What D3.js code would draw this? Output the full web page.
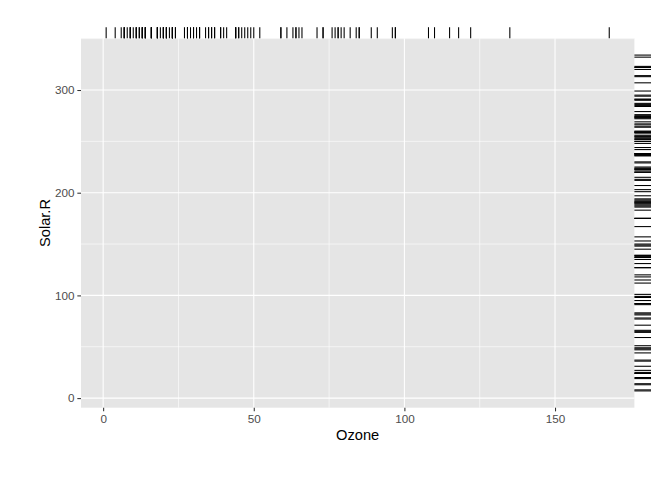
<!DOCTYPE html>
<html><head><meta charset="utf-8">
<script src="https://cdn.jsdelivr.net/npm/d3@7"></script>
<style>body{margin:0;background:#fff}</style>
</head><body><svg id="c" width="672" height="480"></svg>
<script>
const ozone = [41,36,12,18,null,28,23,19,8,null,7,16,11,14,18,14,34,6,30,11,1,11,4,32,null,null,null,23,45,115,37,null,null,null,null,null,null,29,null,71,39,null,null,23,null,null,21,37,20,12,13,null,null,null,null,null,null,null,null,null,null,135,49,32,null,64,40,77,97,97,85,null,10,27,null,7,48,35,61,79,63,16,null,null,80,108,20,52,82,50,64,59,39,9,16,78,35,66,122,89,110,null,null,44,28,65,null,22,59,23,31,44,21,9,null,45,168,73,null,76,118,84,85,96,78,73,91,47,32,20,23,21,24,44,21,28,9,13,46,18,13,24,16,13,23,36,7,14,30,null,14,18,20];
const solarR = [190,118,149,313,null,null,299,99,19,194,null,256,290,274,65,334,307,78,322,44,8,320,25,92,66,266,null,13,252,223,279,286,287,242,186,220,264,127,273,291,323,259,250,148,332,322,191,284,37,120,137,150,59,91,250,135,127,47,98,31,138,269,248,236,101,175,314,276,267,272,175,139,264,175,291,48,260,274,285,187,220,7,258,295,294,223,81,82,213,275,253,254,83,24,77,null,null,null,255,229,207,222,137,192,273,157,64,71,51,115,244,190,259,36,255,212,238,215,153,203,225,237,188,167,197,183,189,95,92,252,220,230,259,236,259,238,24,112,237,224,27,238,201,238,14,139,49,20,193,145,191,131,223];
const xTicks = [0,50,100,150];
const yTicks = [0,100,200,300];
const xMinor = [25,75,125];
const yMinor = [50,150,250,350];
const xLabel = "Ozone", yLabel = "Solar.R";

const svg = d3.select("#c");
const L = 81, R = 634.4, T = 38.3, B = 407.7;
const xv = ozone.filter(v => v != null), yv = solarR.filter(v => v != null);
const [x0, x1] = d3.extent(xv), [y0, y1] = d3.extent(yv);
const ex = (x1 - x0) * 0.05, ey = (y1 - y0) * 0.05;
const x = d3.scaleLinear().domain([x0 - ex, x1 + ex]).range([L, R]);
const y = d3.scaleLinear().domain([y0 - ey, y1 + ey]).range([B, T]);

svg.append("rect").attr("x", L).attr("y", T).attr("width", R - L).attr("height", B - T).attr("fill", "#E5E5E5");
const grid = svg.append("g");
grid.selectAll(".xm").data(xMinor).join("line").attr("x1", d => x(d)).attr("x2", d => x(d)).attr("y1", T).attr("y2", B).attr("stroke", "#fff").attr("stroke-width", 0.6);
grid.selectAll(".ym").data(yMinor.filter(d => y(d) >= T)).join("line").attr("y1", d => y(d)).attr("y2", d => y(d)).attr("x1", L).attr("x2", R).attr("stroke", "#fff").attr("stroke-width", 0.6);
grid.selectAll(".xM").data(xTicks).join("line").attr("x1", d => x(d)).attr("x2", d => x(d)).attr("y1", T).attr("y2", B).attr("stroke", "#fff").attr("stroke-width", 1.07);
grid.selectAll(".yM").data(yTicks).join("line").attr("y1", d => y(d)).attr("y2", d => y(d)).attr("x1", L).attr("x2", R).attr("stroke", "#fff").attr("stroke-width", 1.07);

// rugs (outside)
const lenTop = 0.03 * (B - T), lenRight = 0.03 * (R - L);
svg.append("g").selectAll("line").data(xv).join("line")
  .attr("x1", d => x(d)).attr("x2", d => x(d)).attr("y1", T).attr("y2", T - lenTop)
  .attr("stroke", "#000").attr("stroke-width", 1.07);
svg.append("g").selectAll("line").data(yv).join("line")
  .attr("y1", d => y(d)).attr("y2", d => y(d)).attr("x1", R).attr("x2", R + lenRight)
  .attr("stroke", "#000").attr("stroke-width", 1.07);

const font = "Liberation Sans, Arial, Helvetica, sans-serif";
const xa = svg.append("g").attr("transform", `translate(0,${B})`)
  .call(d3.axisBottom(x).tickValues(xTicks).tickSize(3.67).tickPadding(2.9));
const ya = svg.append("g").attr("transform", `translate(${L},0)`)
  .call(d3.axisLeft(y).tickValues(yTicks).tickSize(3.67).tickPadding(2.9));
[xa, ya].forEach(a => {
  a.select(".domain").remove();
  a.selectAll(".tick line").attr("stroke", "#333").attr("stroke-width", 1.07);
  a.selectAll(".tick text").attr("fill", "#4D4D4D").style("font-family", font).style("font-size", "11.7px");
});
svg.append("text").attr("x", (L + R) / 2).attr("y", 440).attr("text-anchor", "middle")
  .style("font-family", font).style("font-size", "14.67px").attr("fill", "#000").text(xLabel);
svg.append("text").attr("transform", `translate(50,${(T + B) / 2}) rotate(-90)`).attr("text-anchor", "middle")
  .style("font-family", font).style("font-size", "14.67px").attr("fill", "#000").text(yLabel);
</script></body></html>
